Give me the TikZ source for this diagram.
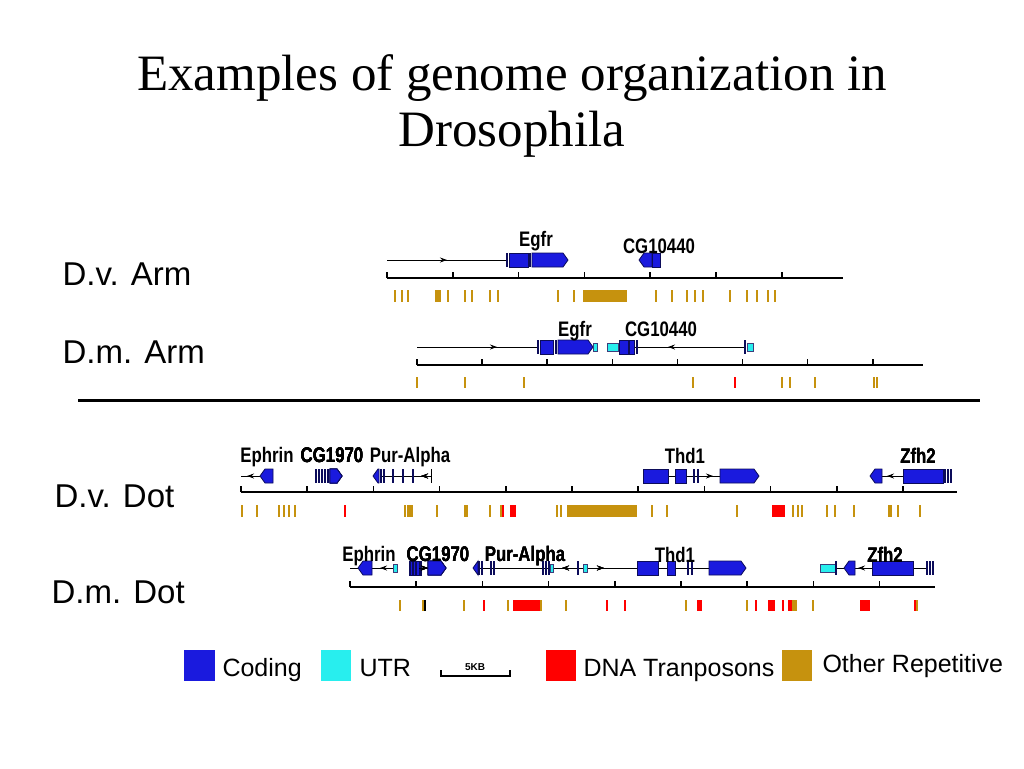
\documentclass[tikz,border=0pt]{standalone}
\usepackage{fontspec}
\usepackage{graphicx}
\setmainfont{Liberation Serif}
\setsansfont{Liberation Sans}
\usetikzlibrary{arrows.meta}

\definecolor{coding}{RGB}{26,26,222}
\definecolor{codingdark}{RGB}{12,12,90}
\definecolor{utr}{RGB}{40,238,238}
\definecolor{dnatp}{RGB}{255,0,0}
\definecolor{otherrep}{RGB}{198,146,14}

\tikzset{
  cds/.style={fill=coding,draw=codingdark,line width=0.8pt},
  utrpart/.style={fill=utr,draw=codingdark!80,line width=0.8pt},
  gline/.style={line width=0.9pt},
  axisline/.style={line width=2.4pt},
  tickline/.style={line width=1.6pt},
  gname/.style={font=\sffamily\bfseries\fontsize{21}{21}\selectfont,anchor=base,inner sep=0pt},
  track/.style={font=\sffamily\fontsize{33}{33}\selectfont,anchor=base west},
  legtext/.style={font=\sffamily\fontsize{25}{25}\selectfont,anchor=base west},
}

% narrow gene name
\newcommand\gn[1]{\scalebox{0.8}[1]{#1}}
% gene parts: from x, to x, at y
\newcommand\cdsbox[3]{\draw[cds] (#1,#3-7) rectangle (#2,#3+7);}
\newcommand\cdsright[3]{\draw[cds] (#1,#3-7) -- (#2-5,#3-7) -- (#2,#3) -- (#2-5,#3+7) -- (#1,#3+7) -- cycle;}
\newcommand\cdsleft[3]{\draw[cds] (#2,#3-7) -- (#1+5,#3-7) -- (#1,#3) -- (#1+5,#3+7) -- (#2,#3+7) -- cycle;}
\newcommand\utrbox[3]{\draw[utrpart] (#1,#3-4) rectangle (#2,#3+4);}
\newcommand\exbar[2]{\fill[codingdark] (#1-1,#2-7) rectangle (#1+1,#2+7);}
\newcommand\rarr[2]{\draw[gline,-{Stealth[length=7pt,width=5pt]}] (#1-9,#2) -- (#1,#2);}
\newcommand\larr[2]{\draw[gline,-{Stealth[length=7pt,width=5pt]}] (#1+9,#2) -- (#1,#2);}
% repeat marks: colour, top, bottom, list of x
\newcommand\reps[4]{\foreach \x in {#4} \fill[#1] (\x-0.8,#2) rectangle (\x+0.8,#3);}

\begin{document}
\begin{tikzpicture}[x=1pt,y=-1pt]
\useasboundingbox (0,0) rectangle (1024,768);

%Title
\node[font=\fontsize{51}{51}\selectfont,anchor=base] (title) at (512,90) {Examples of genome organization in};
\node[font=\fontsize{51}{51}\selectfont,anchor=base] (title2) at (512,146) {Drosophila};

%D.v. Arm
\begin{scope}
\node[track] (dvarm) at (59,285) {D.v. Arm};
\draw[gline] (387,260) -- (507,260);
\rarr{447}{260}
\exbar{507}{260}
\cdsbox{509}{528}{260}
\exbar{530}{260}
\cdsright{532}{568}{260}
\node[gname] (egfrva) at (536,246) {\gn{Egfr}};
\cdsleft{639}{652}{260}
\cdsbox{652}{660}{260}
\node[gname] (cgva) at (659,253) {\gn{CG10440}};

\draw[axisline] (387,278) -- (843,278);
\foreach \k in {0,...,6} \draw[tickline] (387+65.8*\k,278) -- (387+65.8*\k,272);

\reps{otherrep}{290}{302}{395,402,408,436,438,440,448,465,472,490,498,558,574,656,672,687,695,703,730,747,757,768,775}
\fill[otherrep] (583,290) rectangle (627,302);
\end{scope}

%D.m. Arm
\begin{scope}
\node[track] (dmarm) at (59,363) {D.m. Arm};
\draw[gline] (417,347) -- (538,347);
\rarr{497}{347}
\exbar{538}{347}
\cdsbox{540}{553}{347}
\exbar{556}{347}
\cdsright{558}{593}{347}
\utrbox{593}{597}{347}
\node[gname] (egfrma) at (575,336) {\gn{Egfr}};
\draw[gline] (634,347) -- (745,347);
\utrbox{607}{618}{347}
\cdsbox{619}{628}{347}
\cdsbox{629}{634}{347}
\exbar{637}{347}
\larr{668}{347}
\exbar{745}{347}
\utrbox{747}{753}{347}
\node[gname] (cgma) at (661,336) {\gn{CG10440}};

\draw[axisline] (417,365) -- (923,365);
\foreach \k in {0,...,7} \draw[tickline] (417+65.1*\k,365) -- (417+65.1*\k,359);

\reps{otherrep}{377}{388}{417,465,524,693,782,790,815,874,877}
\reps{dnatp}{377}{388}{735}
\end{scope}

\draw[line width=3pt] (78,400) -- (980,400);

%D.v. Dot
\begin{scope}
\node[track] (dvdot) at (51,507) {D.v. Dot};
% Ephrin
\draw[gline] (241,476) -- (260,476);
\larr{247}{476}
\cdsleft{260}{273}{476}
\node[gname] (ephvd) at (267,462) {\gn{Ephrin}};
% CG1970
\foreach \x in {316,319,322,325,328} \exbar{\x}{476}
\cdsright{330}{342}{476}
\node[gname] (cgvd) at (332,462) {\gn{CG1970}};
% Pur-Alpha
\draw[gline] (380,476) -- (431,476);
\cdsleft{373}{379}{476}
\exbar{381}{476}
\exbar{384}{476}
\foreach \x in {393,403,413} \exbar{\x}{476}
\larr{421}{476}
\draw[gline] (431,469) -- (431,483);
\node[gname] (purvd) at (410,462) {\gn{Pur-Alpha}};
% Thd1
\draw[gline] (668,476) -- (720,476);
\cdsbox{643}{668}{476}
\cdsbox{675}{686}{476}
\exbar{694}{476}
\exbar{698}{476}
\rarr{713}{476}
\cdsright{720}{759}{476}
\node[gname] (thdvd) at (685,463) {\gn{Thd1}};
% Zfh2
\draw[gline] (882,476) -- (903,476);
\cdsleft{870}{882}{476}
\larr{887}{476}
\cdsbox{903}{943}{476}
\foreach \x in {945,948,951} \exbar{\x}{476}
\node[gname] (zfhvd) at (918,463) {\gn{Zfh2}};

\draw[axisline] (241,492) -- (957,492);
\foreach \k in {0,...,10} \draw[tickline] (241+66.2*\k,492) -- (241+66.2*\k,486);

\reps{otherrep}{505}{517}{242,257,279,284,289,295,405,437,465,467,490,501,557,561,652,667,737,793,798,802,827,835,854,898,920}
\reps{dnatp}{505}{517}{345,503}
\fill[otherrep] (407,505) rectangle (413,517);
\fill[otherrep] (567,505) rectangle (637,517);
\fill[otherrep] (888,505) rectangle (892,517);
\fill[dnatp] (510,505) rectangle (516,517);
\fill[dnatp] (772,505) rectangle (785,517);
\end{scope}

%D.m. Dot
\begin{scope}
\node[track] (dmdot) at (48,603) {D.m. Dot};
% Ephrin
\draw[gline] (350,568) -- (393,568);
\cdsleft{358}{372}{568}
\larr{380}{568}
\utrbox{393}{397}{568}
\node[gname] (ephmd) at (369,561) {\gn{Ephrin}};
% CG1970
\draw[gline] (420,568) -- (428,568);
\cdsbox{409}{421}{568}
\foreach \x in {410,413,416,420} \exbar{\x}{568}
\rarr{428}{568}
\cdsright{428}{446}{568}
\node[gname] (cgmd) at (438,561) {\gn{CG1970}};
% Pur-Alpha
\draw[gline] (477,568) -- (637,568);
\cdsleft{473}{478}{568}
\exbar{479}{568}
\exbar{482}{568}
\exbar{491}{568}
\exbar{494}{568}
\foreach \x in {543,546,549} \exbar{\x}{568}
\utrbox{550}{553}{568}
\larr{562}{568}
\exbar{578}{568}
\utrbox{583}{587}{568}
\rarr{604}{568}
\node[gname] (purmd) at (525,561) {\gn{Pur-Alpha}};
% Thd1
\draw[gline] (658,568) -- (709,568);
\cdsbox{637}{658}{568}
\cdsbox{667}{675}{568}
\exbar{688}{568}
\exbar{692}{568}
\cdsright{709}{746}{568}
\node[gname] (thdmd) at (675,562) {\gn{Thd1}};
% Zfh2
\draw[gline] (835,568) -- (926,568);
\utrbox{820}{835}{568}
\exbar{836}{568}
\cdsleft{844}{855}{568}
\larr{858}{568}
\cdsbox{872}{913}{568}
\foreach \x in {927,930,933} \exbar{\x}{568}
\node[gname] (zfhmd) at (885,562) {\gn{Zfh2}};

\draw[axisline] (350,587) -- (935,587);
\foreach \k in {0,...,8} \draw[tickline] (350+66.2*\k,587) -- (350+66.2*\k,581);

\reps{otherrep}{600}{611}{400,423,464,508,541,566,686,747,813,917}
\reps{black}{600}{611}{425}
\reps{dnatp}{600}{611}{484,607,625,756,783,915}
\fill[dnatp] (513,600) rectangle (540,611);
\fill[dnatp] (697,600) rectangle (702,611);
\fill[dnatp] (768,600) rectangle (775,611);
\fill[dnatp] (788,600) rectangle (792,611);
\fill[otherrep] (792,600) rectangle (797,611);
\fill[dnatp] (860,600) rectangle (870,611);
\end{scope}

%Legend
\fill[coding] (184,650) rectangle (215,681);
\node[legtext] (lcoding) at (219,676) {Coding};
\fill[utr] (321,650) rectangle (351,681);
\node[legtext] (lutr) at (356,676) {UTR};
\draw[line width=1.6pt] (441,670) -- (441,676) -- (510,676) -- (510,670);
\node[font=\sffamily\bfseries\fontsize{10}{10}\selectfont,anchor=base] (lscale) at (475,670) {5KB};
\fill[dnatp] (546,650) rectangle (576,681);
\node[legtext] (ldna) at (580,676) {DNA Tranposons};
\fill[otherrep] (782,650) rectangle (812,681);
\node[legtext] (lother) at (819,672) {Other Repetitive};

\end{tikzpicture}
\end{document}
